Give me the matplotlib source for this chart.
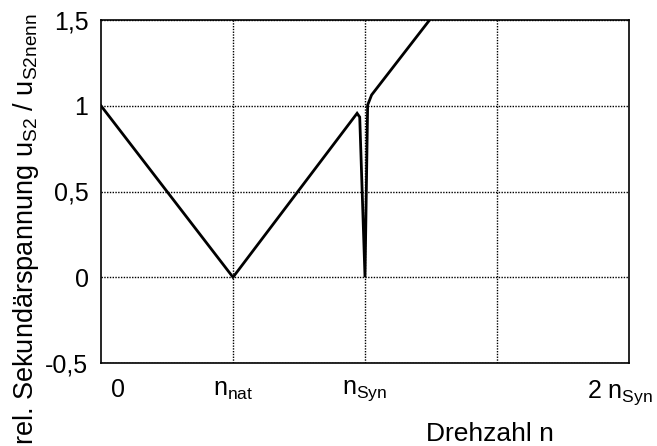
import matplotlib
matplotlib.use("Agg")
import matplotlib.pyplot as plt

plt.rcParams['font.family'] = ['Liberation Sans', 'DejaVu Sans']
plt.rcParams['mathtext.fontset'] = 'custom'
plt.rcParams['mathtext.rm'] = 'Liberation Sans'
plt.rcParams['mathtext.it'] = 'Liberation Sans:italic'
plt.rcParams['mathtext.default'] = 'regular'

# data (x in units of n_nat; n_Syn = 2)
speed = [0, 1, 1.94, 1.96, 2.0, 2.02, 2.05, 2.6]
voltage = [1.0, 0.0, 0.956, 0.934, 0.0, 1.004, 1.063, 1.61]

xtick_pos = [0.13, 1, 2, 3.93]
xtick_labels = ['0', r'n$_{\mathrm{nat}}$', r'n$_{\mathrm{Syn}}$', r'2 n$_{\mathrm{Syn}}$']
xgrid = [1, 2, 3]
ytick_pos = [-0.5, 0, 0.5, 1, 1.5]
ytick_labels = ['-0,5', '0', '0,5', '1', '1,5']

fig = plt.figure(figsize=(6.57, 4.46), dpi=100)
ax = fig.add_axes([101/657, 83/446, 528/657, 343/446])

for gx in xgrid:
    ax.axvline(gx, color='black', linestyle=(0, (1, 1)), lw=1.0, zorder=0.5)

ax.plot(speed, voltage, color='black', lw=2.0, solid_joinstyle='miter', clip_on=True, zorder=3)

ax.set_xlim(0, 4)
ax.set_ylim(-0.5, 1.5)

ax.set_xticks(xtick_pos)
ax.set_xticklabels(xtick_labels, fontsize=18)
ax.set_yticks(ytick_pos)
ax.set_yticklabels(ytick_labels, fontsize=18)
ax.tick_params(axis='both', which='both', length=0)
ax.tick_params(axis='x', pad=11)
ax.tick_params(axis='y', pad=9)

ax.yaxis.grid(True, which='major', color='black', linestyle=(0, (1, 1)), lw=1.0)
ax.set_axisbelow(True)

for sp in ax.spines.values():
    sp.set_color('black')
    sp.set_linewidth(1.2)
    sp.set_zorder(4)

fig.text(490/657, 5/446, 'Drehzahl n', fontsize=19, ha='center', va='baseline')
fig.text(33/657, 1 - 13/446,
         r'rel. Sekundärspannung u$_{\mathrm{S2}}$ / u$_{\mathrm{S2nenn}}$',
         fontsize=19.5, rotation=90, rotation_mode='anchor', ha='right', va='baseline')

fig.savefig('out.png', dpi=100)
